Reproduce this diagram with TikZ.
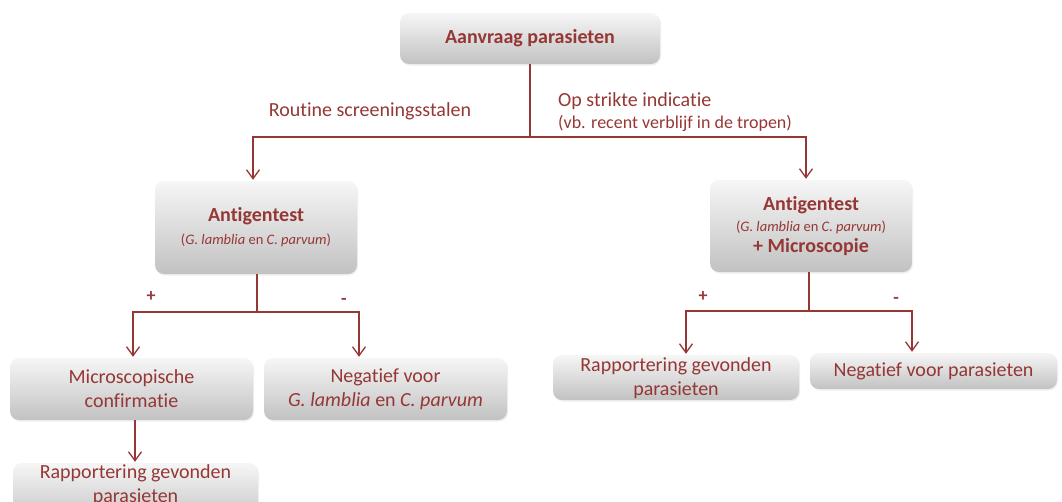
\documentclass[tikz,border=0pt]{standalone}
\usepackage{fontspec}
\setmainfont[Ligatures=NoCommon]{Carlito}
\usetikzlibrary{arrows.meta,shadows,calc}
\definecolor{dred}{RGB}{149,55,53}
\tikzset{
  box/.style={rectangle, rounded corners=9pt, top color=gray!7, bottom color=gray!48,
    draw=none, text=dred, align=center, inner sep=0pt,
    drop shadow={opacity=0.12, shadow xshift=1pt, shadow yshift=-1.5pt},
    font=\fontsize{20}{24}\selectfont},
  lab/.style={text=dred, inner sep=0pt, font=\fontsize{20}{24}\selectfont},
  small/.style={text=dred, inner sep=0pt, font=\fontsize{18}{21}\selectfont},
  sign/.style={text=dred, inner sep=0pt, font=\fontsize{18}{20}\selectfont\bfseries},
  conn/.style={draw=dred, line width=1.3pt},
  arr/.style={conn, -{Straight Barb[length=9pt,width=13pt,line width=1.3pt]}, shorten >=1pt},
}
\newcommand{\sm}{\fontsize{14.5}{17}\selectfont}
\begin{document}
\begin{tikzpicture}[x=1pt,y=-1pt]
\useasboundingbox (0,0) rectangle (1062,501);
\clip (0,0) rectangle (1062,501);
% boxes
\node[box, minimum width=260pt, minimum height=51pt] (top) at (530,38.5) {\bfseries Aanvraag parasieten};
\node[box, minimum width=202pt, minimum height=93pt] (ageL) at (256,227.5)
  {\bfseries Antigentest\\[-1pt]{\sm(\textit{G. lamblia} en \textit{C. parvum})}};
\node[box, minimum width=202pt, minimum height=92pt] (ageR) at (811,226)
  {\bfseries Antigentest\\[-3pt]{\sm(\textit{G. lamblia} en \textit{C. parvum})}\\[-3pt]\bfseries + Microscopie};
\node[box, minimum width=243pt, minimum height=62pt] (micL) at (131.5,389) {Microscopische\\confirmatie};
\node[box, minimum width=243pt, minimum height=62pt] (negL) at (385.5,389) {Negatief voor\\\textit{G. lamblia} en \textit{C. parvum}};
\node[box, minimum width=245pt, minimum height=62pt, text depth=0pt] (rapL) at (135.5,494) {};
\node[lab, align=center] (rapLt) at (135.5,485) {Rapportering gevonden\\parasieten};
\node[box, minimum width=246pt, minimum height=45pt] (rapR) at (676,377.5) {};
\node[lab, align=center] (rapRt) at (676,378) {Rapportering gevonden\\parasieten};
\node[box, minimum width=247pt, minimum height=36pt] (negR) at (933.5,371) {Negatief voor parasieten};
% labels
\node[lab] (l1) at (370,111) {Routine screeningsstalen};
\node[lab, anchor=west] (l2) at (558,101) {Op strikte indicatie};
\node[small, anchor=west] (l3) at (558,123) {(vb. recent verblijf in de tropen)};
\node[sign] (pL) at (151,297) {+};
\node[sign] (mL) at (344,301) {-};
\node[sign] (pR) at (703,297) {+};
\node[sign] (mR) at (896,300) {-};
% connectors
\coordinate (j1) at (530,137);
\coordinate (j2) at (257,312);
\coordinate (j3) at (809,311);
\draw[conn] (top.south) -- (j1);
\draw[arr] (j1) -| ([xshift=-3pt]ageL.north);
\draw[arr] (j1) -| ([xshift=-5pt]ageR.north);
\draw[conn] (ageL.south -| j2) -- (j2);
\draw[arr] (j2) -| ([xshift=1.5pt]micL.north);
\draw[arr] (j2) -| ([xshift=-26.5pt]negL.north);
\draw[conn] (ageR.south -| j3) -- (j3);
\draw[arr] (j3) -| ([xshift=10pt]rapR.north);
\draw[arr] (j3) -| ([xshift=-21.5pt]negR.north);
\draw[arr] ([xshift=3.5pt]micL.south) -- ([xshift=-0.5pt]rapL.north);
\end{tikzpicture}
\end{document}
